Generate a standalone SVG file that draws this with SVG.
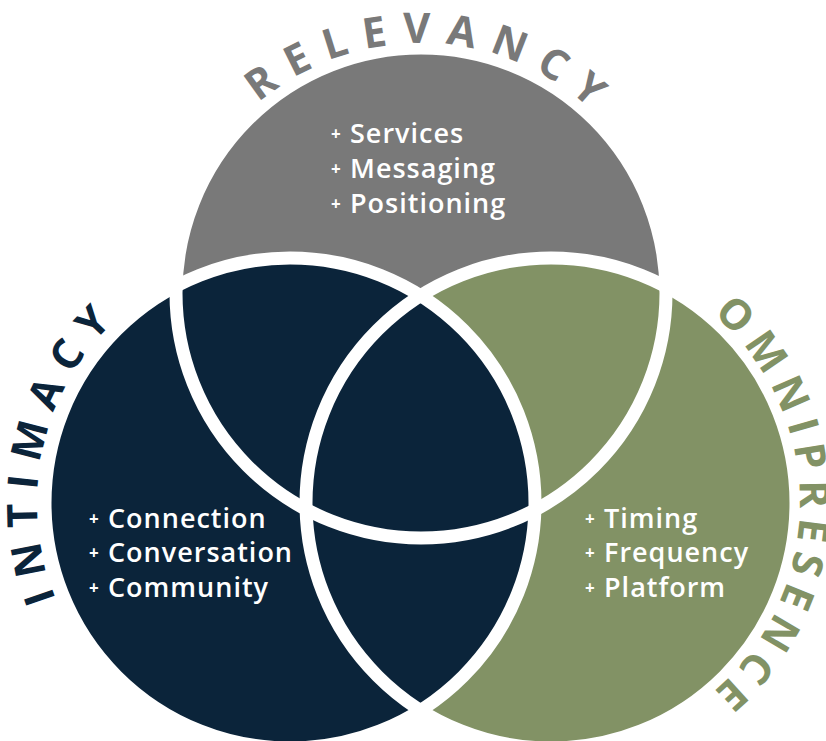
<svg xmlns="http://www.w3.org/2000/svg" width="826" height="741" viewBox="0 0 826 741">
<style>
.ring{fill:none;stroke:#ffffff;stroke-width:13}
.lbl{font-family:"Open Sans","Liberation Sans",sans-serif;font-weight:600;font-size:27px;fill:#ffffff;letter-spacing:1px}
.p{font-size:17px;font-weight:700;letter-spacing:0}
.title{font-family:"Open Sans","Liberation Sans",sans-serif;font-weight:700;font-size:42px}
</style>
<defs>
<path id="pRel" d="M 171 293 A 250 250 0 0 1 671 293"/>
<path id="pInt" d="M 290 756 A 253 253 0 0 1 290 250"/>
<path id="pOmn" d="M 551 254 A 249 249 0 0 1 551 752"/>
</defs>
<rect width="826" height="741" fill="#ffffff"/>
<g id="relevancy">
<circle cx="421" cy="293" r="245" fill="#797979"/>
</g>
<g id="omnipresence">
<circle cx="551" cy="503" r="245" fill="#829265"/>
</g>
<g id="intimacy">
<circle cx="290" cy="503" r="245" fill="#0b243a"/>
</g>
<g id="connectors">
<circle class="ring" cx="421" cy="293" r="245"/>
<circle class="ring" cx="551" cy="503" r="245"/>
<circle class="ring" cx="290" cy="503" r="245"/>
</g>
<g id="relevancy-text">
<text class="title" fill="#797979" letter-spacing="15"><textPath href="#pRel" startOffset="51.5%" text-anchor="middle">RELEVANCY</textPath></text>
<text class="lbl" x="331" y="143"><tspan class="p" dy="-3">+</tspan><tspan x="350" dy="3">Services</tspan></text>
<text class="lbl" x="331" y="178"><tspan class="p" dy="-3">+</tspan><tspan x="350" dy="3">Messaging</tspan></text>
<text class="lbl" x="331" y="213"><tspan class="p" dy="-3">+</tspan><tspan x="350" dy="3">Positioning</tspan></text>
</g>
<g id="intimacy-text">
<text class="title" fill="#0b243a" letter-spacing="13"><textPath href="#pInt" startOffset="57.2%" text-anchor="middle">INTIMACY</textPath></text>
<text class="lbl" x="89" y="528"><tspan class="p" dy="-3">+</tspan><tspan x="108" dy="3">Connection</tspan></text>
<text class="lbl" x="89" y="562"><tspan class="p" dy="-3">+</tspan><tspan x="108" dy="3">Conversation</tspan></text>
<text class="lbl" x="89" y="597"><tspan class="p" dy="-3">+</tspan><tspan x="108" dy="3">Community</tspan></text>
</g>
<g id="omnipresence-text">
<text class="title" fill="#829265" letter-spacing="9"><textPath href="#pOmn" startOffset="50.5%" text-anchor="middle">OMNIPRESENCE</textPath></text>
<text class="lbl" x="585" y="528"><tspan class="p" dy="-3">+</tspan><tspan x="604" dy="3">Timing</tspan></text>
<text class="lbl" x="585" y="562"><tspan class="p" dy="-3">+</tspan><tspan x="604" dy="3">Frequency</tspan></text>
<text class="lbl" x="585" y="597"><tspan class="p" dy="-3">+</tspan><tspan x="604" dy="3">Platform</tspan></text>
</g>
</svg>
